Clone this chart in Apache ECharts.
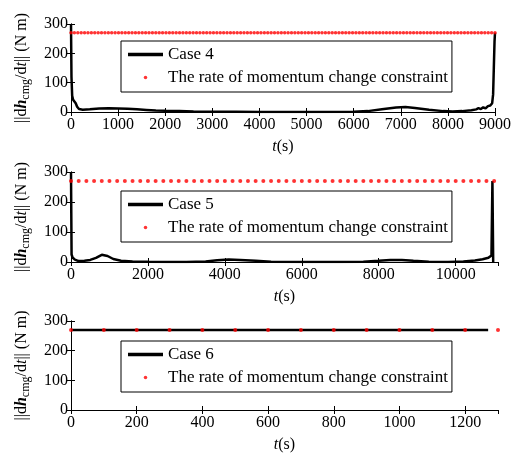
<!DOCTYPE html>
<html>
<head>
<meta charset="utf-8">
<script src="https://cdn.jsdelivr.net/npm/echarts@6/dist/echarts.min.js"></script>
<style>
  html, body { margin: 0; padding: 0; background: #fff; }
  #chart { width: 514px; height: 455px; }
</style>
</head>
<body>
<div id="chart"></div>
<script>
// Momentum change rate of the CMG cluster for three manoeuvres
const LIMIT_NAME = 'The rate of momentum change constraint';
const LIMIT_VALUE = 270;           // N m
const yTicks = [0, 100, 200, 300];

// Case 4
const case4Time = [0, 10, 25, 45, 70, 100, 130, 170, 250, 400, 600, 800, 1000, 1200, 1400, 1600, 1800, 2000, 2300, 2600, 3000, 3500, 4000, 5000, 6000, 6300, 6600, 6900, 7100, 7300, 7600, 7900, 8100, 8300, 8500, 8600, 8650, 8700, 8750, 8800, 8850, 8900, 8940, 8960, 8975, 8990, 9000];
const case4Rate = [300, 120, 55, 42, 38, 30, 18, 10, 8, 9, 12, 13, 12, 11, 9, 7, 5, 4, 3, 2, 1, 0.5, 0, 0, 1, 3, 9, 15, 17, 14, 8, 3, 2, 3, 6, 9, 13, 10, 16, 12, 20, 22, 30, 60, 150, 240, 270];
const case4LimitTime = [0, 72, 144, 216, 288, 360, 432, 504, 576, 648, 720, 792, 864, 936, 1008, 1080, 1152, 1224, 1296, 1368, 1440, 1512, 1584, 1656, 1728, 1800, 1872, 1944, 2016, 2088, 2160, 2232, 2304, 2376, 2448, 2520, 2592, 2664, 2736, 2808, 2880, 2952, 3024, 3096, 3168, 3240, 3312, 3384, 3456, 3528, 3600, 3672, 3744, 3816, 3888, 3960, 4032, 4104, 4176, 4248, 4320, 4392, 4464, 4536, 4608, 4680, 4752, 4824, 4896, 4968, 5040, 5112, 5184, 5256, 5328, 5400, 5472, 5544, 5616, 5688, 5760, 5832, 5904, 5976, 6048, 6120, 6192, 6264, 6336, 6408, 6480, 6552, 6624, 6696, 6768, 6840, 6912, 6984, 7056, 7128, 7200, 7272, 7344, 7416, 7488, 7560, 7632, 7704, 7776, 7848, 7920, 7992, 8064, 8136, 8208, 8280, 8352, 8424, 8496, 8568, 8640, 8712, 8784, 8856, 8928, 9000];

// Case 5
const case5Time = [0, 15, 40, 100, 200, 350, 500, 650, 800, 850, 950, 1100, 1300, 1600, 2000, 2500, 3000, 3500, 3800, 4100, 4400, 4800, 5200, 6000, 7000, 7600, 8000, 8300, 8600, 8900, 9300, 9800, 10200, 10500, 10700, 10850, 10930, 10955, 10975];
const case5Rate = [300, 25, 15, 8, 3, 4, 7, 14, 24, 27, 20, 10, 4, 2, 1, 0, 0, 2, 6, 8, 7, 4, 1, 0, 0, 1, 4, 7, 7, 4, 1, 0, 2, 5, 9, 14, 22, 270, 0];
const case5LimitTime = [0, 200, 400, 600, 800, 1000, 1200, 1400, 1600, 1800, 2000, 2200, 2400, 2600, 2800, 3000, 3200, 3400, 3600, 3800, 4000, 4200, 4400, 4600, 4800, 5000, 5200, 5400, 5600, 5800, 6000, 6200, 6400, 6600, 6800, 7000, 7200, 7400, 7600, 7800, 8000, 8200, 8400, 8600, 8800, 9000, 9200, 9400, 9600, 9800, 10000, 10200, 10400, 10600, 10800, 11000];

// Case 6
const case6Time = [0, 1270];
const case6Rate = [270, 270];
const case6LimitTime = [0, 100, 200, 300, 400, 500, 600, 700, 800, 900, 1000, 1100, 1200, 1300];

const panels = [
  { name: 'Case 4', time: case4Time, rate: case4Rate, limitTime: case4LimitTime,
    xMax: 9000, xStep: 1000, top: 24, height: 88, legendTop: 41, dot: 3.5 },
  { name: 'Case 5', time: case5Time, rate: case5Rate, limitTime: case5LimitTime,
    xMax: 11100, xStep: 2000, top: 172, height: 90, legendTop: 191, dot: 4 },
  { name: 'Case 6', time: case6Time, rate: case6Rate, limitTime: case6LimitTime,
    xMax: 1300, xStep: 200, top: 321, height: 89, legendTop: 341, dot: 4 }
];

const FONT = 'Liberation Serif';
const INK = '#000';

const yName = '{bd|||d}{bi|h}{sub|cmg}{n|/d}{it|t}{n||| (N m)}';
const yNameRich = {
  n:   { fontFamily: FONT, fontSize: 16, color: INK },
  bd:  { fontFamily: FONT, fontSize: 16, color: INK },
  bi:  { fontFamily: FONT, fontSize: 16, color: INK, fontWeight: 'bold', fontStyle: 'italic' },
  it:  { fontFamily: FONT, fontSize: 16, color: INK, fontStyle: 'italic' },
  sub: { fontFamily: FONT, fontSize: 12, color: INK, padding: [9, 0, 0, 0] }
};

const xNameRich = {
  it: { fontFamily: FONT, fontSize: 16, color: INK, fontStyle: 'italic' },
  n:  { fontFamily: FONT, fontSize: 16, color: INK }
};

const axisLine = { show: true, lineStyle: { color: INK, width: 1 } };
const axisTick = { show: true, inside: true, length: 4, lineStyle: { color: INK, width: 1 } };
const plainNumber = v => String(v);

const grid = [], xAxis = [], yAxis = [], series = [], legend = [];

panels.forEach((p, i) => {
  grid.push({ left: 71, right: 16, top: p.top, height: p.height });

  // bottom axis with labels
  xAxis.push({
    type: 'value', gridIndex: i, min: 0, max: p.xMax, interval: p.xStep,
    position: 'bottom',
    axisLine, axisTick, splitLine: { show: false },
    axisLabel: { color: INK, fontFamily: FONT, fontSize: 16, margin: 5,
                 showMaxLabel: p.xMax % p.xStep === 0, formatter: plainNumber },
    name: '{it|t}{n|(s)}', nameLocation: 'middle', nameGap: 27,
    nameTextStyle: { fontFamily: FONT, rich: xNameRich }
  });
  // top frame edge
  xAxis.push({
    type: 'value', gridIndex: i, min: 0, max: p.xMax, interval: p.xStep,
    position: 'top',
    axisLine, axisTick, splitLine: { show: false }, axisLabel: { show: false }
  });
  // left axis with labels
  yAxis.push({
    type: 'value', gridIndex: i, min: yTicks[0], max: yTicks[yTicks.length - 1],
    interval: yTicks[1] - yTicks[0], position: 'left',
    axisLine, axisTick, splitLine: { show: false },
    axisLabel: { color: INK, fontFamily: FONT, fontSize: 16, margin: 3, formatter: plainNumber },
    name: yName, nameLocation: 'middle', nameGap: 39, nameRotate: 90,
    nameTextStyle: { fontFamily: FONT, rich: yNameRich }
  });
  // right frame edge
  yAxis.push({
    type: 'value', gridIndex: i, min: yTicks[0], max: yTicks[yTicks.length - 1],
    interval: yTicks[1] - yTicks[0], position: 'right',
    axisLine, axisTick, splitLine: { show: false }, axisLabel: { show: false }
  });

  series.push({
    name: p.name, type: 'line', xAxisIndex: 2 * i, yAxisIndex: 2 * i,
    data: p.time.map((t, k) => [t, p.rate[k]]),
    showSymbol: false, symbol: 'none',
    lineStyle: { color: INK, width: 2.5 }, itemStyle: { color: INK },
    clip: true, animation: false, z: 2
  });
  series.push({
    name: LIMIT_NAME, type: 'scatter', xAxisIndex: 2 * i, yAxisIndex: 2 * i,
    data: p.limitTime.map(t => [t, LIMIT_VALUE]),
    symbol: 'circle', symbolSize: p.dot,
    itemStyle: { color: '#ff0000' },
    clip: false, animation: false, z: 3
  });

  legend.push({
    data: [
      { name: p.name, icon: 'rect', itemStyle: { color: INK } },
      { name: LIMIT_NAME, icon: 'circle' }
    ],
    orient: 'vertical', left: 121, top: p.legendTop,
    padding: [5, 4, 6, 7],
    itemWidth: 35, itemHeight: 3.5, itemGap: 6,
    backgroundColor: '#fff', borderColor: INK, borderWidth: 1,
    textStyle: { color: INK, fontFamily: FONT, fontSize: 17, lineHeight: 17 },
    selectedMode: false
  });
});

const chart = echarts.init(document.getElementById('chart'), null, { renderer: 'canvas' });
chart.setOption({
  backgroundColor: '#fff',
  animation: false,
  textStyle: { fontFamily: FONT, color: INK },
  grid, xAxis, yAxis, series, legend
});
</script>
</body>
</html>
